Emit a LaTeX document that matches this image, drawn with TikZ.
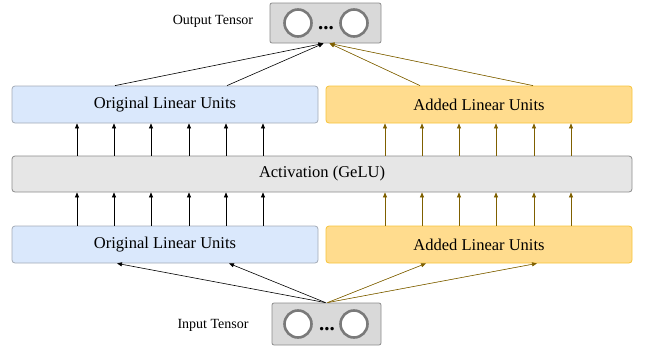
\documentclass[tikz,border=0pt]{standalone}
\usepackage{fontspec}
\setmainfont{Liberation Serif}
\usetikzlibrary{arrows.meta}

\definecolor{origfill}{HTML}{DAE8FC}
\definecolor{origline}{HTML}{A3ABB7}
\definecolor{addfill}{HTML}{FFDC8E}
\definecolor{addline}{HTML}{F7C33A}
\definecolor{actfill}{HTML}{E6E6E6}
\definecolor{boxline}{HTML}{8C8C8C}
\definecolor{tensorfill}{HTML}{D9D9D9}
\definecolor{ringline}{HTML}{7A7A7A}
\definecolor{brownarrow}{HTML}{7F6000}

\tikzset{
  unitbox/.style={draw, rounded corners=3pt, line width=0.8pt, minimum width=306pt,
    minimum height=37pt, inner sep=0pt, font=\fontsize{16.5}{18}\selectfont},
  origunits/.style={unitbox, fill=origfill, draw=origline},
  addunits/.style={unitbox, fill=addfill, draw=addline},
  tensorbox/.style={draw=boxline, fill=tensorfill, rounded corners=2pt, line width=0.8pt, inner sep=0pt},
  neuron/.style={circle, draw=ringline, fill=white, line width=2.6pt, minimum size=27pt, inner sep=0pt},
  dots/.style={font=\fontsize{21}{22}\selectfont\bfseries, inner sep=0pt},
  sidelabel/.style={font=\fontsize{14}{16}\selectfont},
  blackarr/.style={->, line width=0.6pt, draw=black},
  brownarr/.style={->, line width=0.6pt, draw=brownarrow, fill=brownarrow},
}

\begin{document}
\begin{tikzpicture}[x=1pt,y=-1pt,>={Triangle[length=5pt,width=4pt]}]
    \useasboundingbox (0,0) rectangle (646,354);

    % Tensors:
    \node [tensorbox, minimum width=111pt, minimum height=40pt] (outbox) at (325.5,23) {};
    \node [neuron] (outA) at (298,23) {};
    \node [neuron] (outB) at (354,23) {};
    \node [dots] (outdots) at (326,28) {...};
    \node [sidelabel] (outlabel) at (213,21) {Output Tensor};

    \node [tensorbox, minimum width=109pt, minimum height=42pt] (inbox) at (326.5,324) {};
    \node [neuron] (inA) at (298,324) {};
    \node [neuron] (inB) at (354,324) {};
    \node [dots] (indots) at (327,329) {...};
    \node [sidelabel] (inlabel) at (213,325) {Input Tensor};

    % Layers:
    \node [origunits] (origT) at (165,104.5) {Original Linear Units};
    \node [addunits]  (addT)  at (479,104.5) {Added Linear Units};
    \node [unitbox, fill=actfill, draw=boxline, minimum width=620pt, minimum height=36pt] (act) at (322,174) {Activation (GeLU)};
    \node [origunits] (origB) at (165,244.5) {Original Linear Units};
    \node [addunits]  (addB)  at (479,244.5) {Added Linear Units};

    % Input tensor to the first layer:
    \draw [blackarr] ([xshift=-1pt]inbox.north) -- (origB.south -| 117,0);
    \draw [blackarr] ([xshift=-1pt]inbox.north) -- (origB.south -| 229,0);
    \draw [brownarr] ([xshift=1pt]inbox.north) -- (addB.south -| 426,0);
    \draw [brownarr] ([xshift=1pt]inbox.north) -- (addB.south -| 537,0);

    % Units through the activation:
    \foreach \xx in {77,114,151,189,226,263} {
        \draw [blackarr] (origB.north -| \xx,0) -- (act.south -| \xx,0);
        \draw [blackarr] (act.north -| \xx,0) -- (origT.south -| \xx,0);
    }
    \foreach \xx in {385,422,459,496,534,571} {
        \draw [brownarr] (addB.north -| \xx,0) -- (act.south -| \xx,0);
        \draw [brownarr] (act.north -| \xx,0) -- (addT.south -| \xx,0);
    }

    % Last layer to output tensor:
    \draw [blackarr] (origT.north -| 115,0) -- ([xshift=-2pt]outbox.south);
    \draw [blackarr] (origT.north -| 227,0) -- ([xshift=-2pt]outbox.south);
    \draw [brownarr] (addT.north -| 420,0) -- ([xshift=4pt]outbox.south);
    \draw [brownarr] (addT.north -| 533,0) -- ([xshift=4pt]outbox.south);
\end{tikzpicture}
\end{document}
